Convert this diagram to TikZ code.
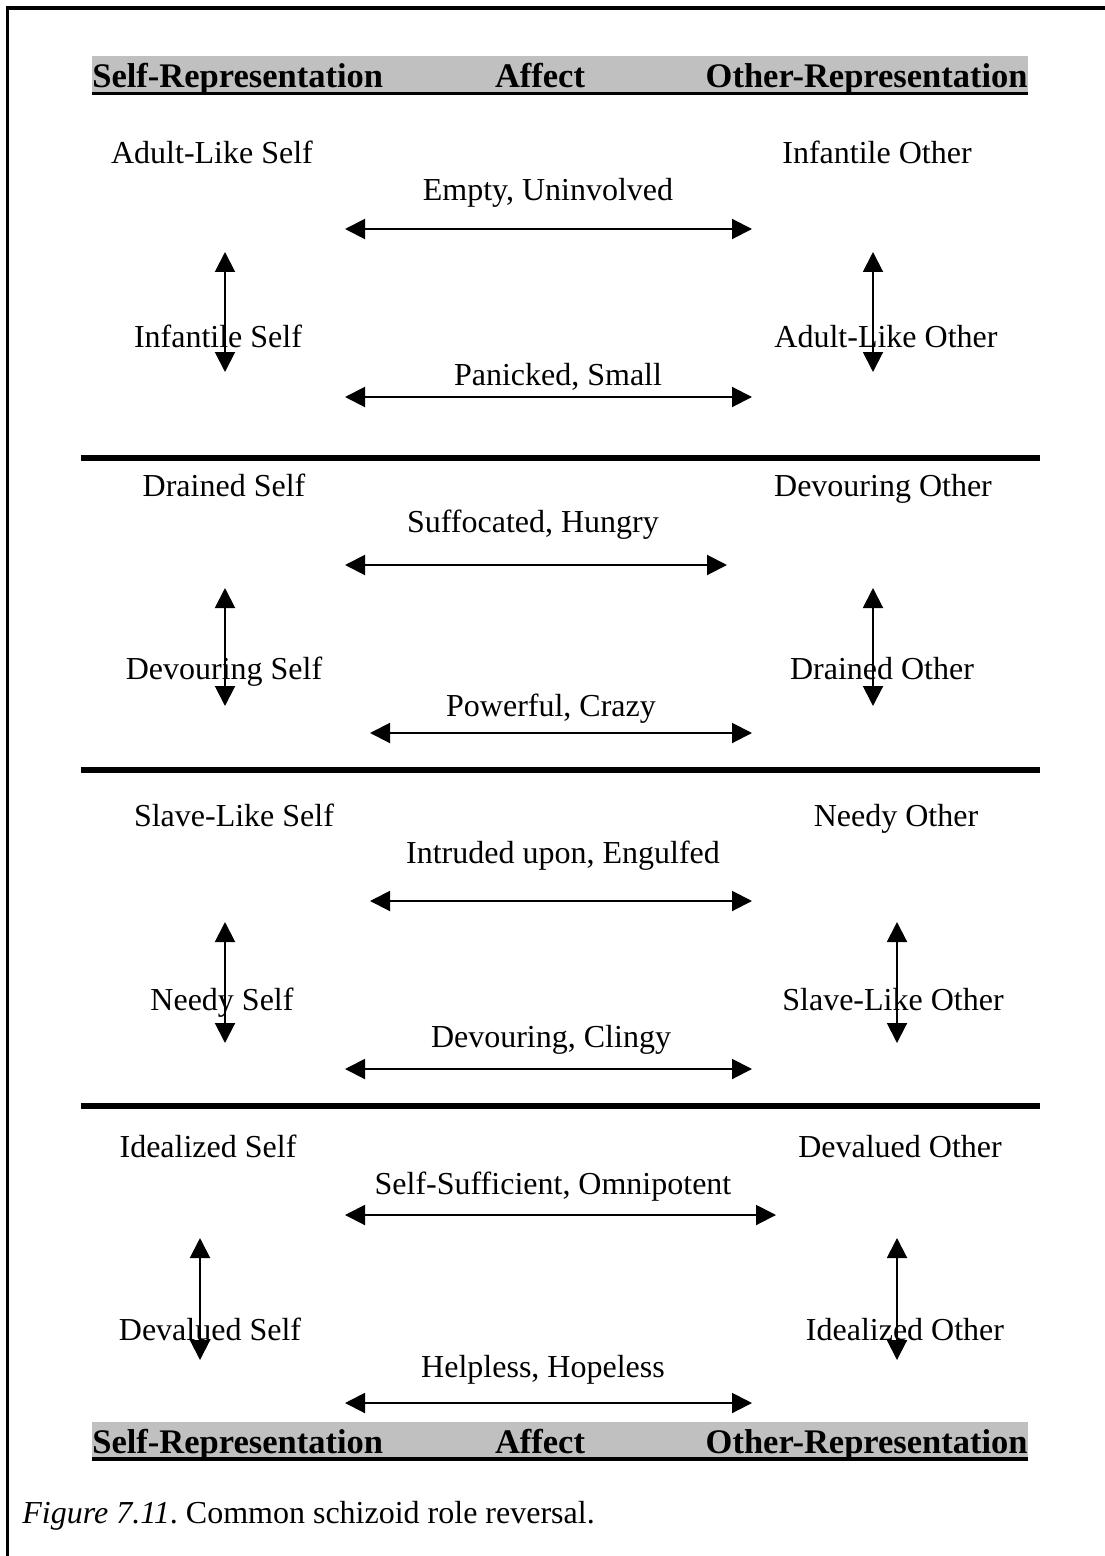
\documentclass[tikz,border=0pt]{standalone}
\usepackage{fontspec}
\setmainfont{Liberation Serif}
\usetikzlibrary{arrows.meta}
\definecolor{headgray}{RGB}{192,192,192}
\frenchspacing
\tikzset{
  lbl/.style={anchor=base,inner sep=0pt,font=\fontsize{16}{19}\selectfont},
  hdr/.style={inner sep=0pt,font=\fontsize{17.25}{20}\selectfont\bfseries},
  dblarrow/.style={line width=1pt,{Triangle[length=10pt,width=10pt]}-{Triangle[length=10pt,width=10pt]}},
  divider/.style={line width=2.75pt},
}
\begin{document}
\begin{tikzpicture}[x=0.5pt,y=-0.5pt]
\useasboundingbox (0,0) rectangle (1104,1556);
% frame (top and left)
\draw[line width=1.75pt] (7.5,1560) -- (7.5,8) -- (1110,8);
% top header
\fill[headgray] (92,56) rectangle (1028,92);
\fill[black] (92,92) rectangle (1028,95.5);
\node[hdr,anchor=base west] (h1l) at (92,88) {Self-Representation};
\node[hdr,anchor=base] (h1m) at (540,88) {Affect};
\node[hdr,anchor=base east] (h1r) at (1028,88) {Other-Representation};
% bottom header
\fill[headgray] (92,1422) rectangle (1028,1457);
\fill[black] (92,1457) rectangle (1028,1461);
\node[hdr,anchor=base west] (h2l) at (92,1453) {Self-Representation};
\node[hdr,anchor=base] (h2m) at (540,1453) {Affect};
\node[hdr,anchor=base east] (h2r) at (1028,1453) {Other-Representation};
% dividers
\coordinate (d1a) at (81,458); \coordinate (d1b) at (1040,458);
\coordinate (d2a) at (81,770); \coordinate (d2b) at (1040,770);
\coordinate (d3a) at (81,1106); \coordinate (d3b) at (1040,1106);
\draw[divider] (d1a) -- (d1b);
\draw[divider] (d2a) -- (d2b);
\draw[divider] (d3a) -- (d3b);
% ---- section 1
\node[lbl] (s1a) at (212,164) {Adult-Like Self};
\node[lbl] (o1a) at (877,164) {Infantile Other};
\node[lbl] (f1a) at (548,201) {Empty, Uninvolved};
\node[lbl] (s1b) at (218,348) {Infantile Self};
\node[lbl] (o1b) at (886,348) {Adult-Like Other};
\node[lbl] (f1b) at (558,385) {Panicked, Small};
\coordinate (a1l) at (345,229); \coordinate (a1r) at (752,229);
\coordinate (b1l) at (345,397); \coordinate (b1r) at (752,397);
\coordinate (v1t) at (225,252); \coordinate (v1b) at (225,372);
\coordinate (w1t) at (873,252); \coordinate (w1b) at (873,372);
\draw[dblarrow] (a1l) -- (a1r);
\draw[dblarrow] (b1l) -- (b1r);
\draw[dblarrow] (v1t) -- (v1b);
\draw[dblarrow] (w1t) -- (w1b);
% ---- section 2
\node[lbl] (s2a) at (224,496) {Drained Self};
\node[lbl] (o2a) at (883,496) {Devouring Other};
\node[lbl] (f2a) at (533,532) {Suffocated, Hungry};
\node[lbl] (s2b) at (224,679) {Devouring Self};
\node[lbl] (o2b) at (882,679) {Drained Other};
\node[lbl] (f2b) at (551,716) {Powerful, Crazy};
\coordinate (a2l) at (345,565); \coordinate (a2r) at (727,565);
\coordinate (b2l) at (370,733); \coordinate (b2r) at (752,733);
\coordinate (v2t) at (225,588); \coordinate (v2b) at (225,706);
\coordinate (w2t) at (873,588); \coordinate (w2b) at (873,706);
\draw[dblarrow] (a2l) -- (a2r);
\draw[dblarrow] (b2l) -- (b2r);
\draw[dblarrow] (v2t) -- (v2b);
\draw[dblarrow] (w2t) -- (w2b);
% ---- section 3
\node[lbl] (s3a) at (234,826) {Slave-Like Self};
\node[lbl] (o3a) at (896,826) {Needy Other};
\node[lbl] (f3a) at (563,863) {Intruded upon, Engulfed};
\node[lbl] (s3b) at (222,1010) {Needy Self};
\node[lbl] (o3b) at (893,1010) {Slave-Like Other};
\node[lbl] (f3b) at (551,1047) {Devouring, Clingy};
\coordinate (a3l) at (370,901); \coordinate (a3r) at (752,901);
\coordinate (b3l) at (345,1069); \coordinate (b3r) at (752,1069);
\coordinate (v3t) at (225,922); \coordinate (v3b) at (225,1043);
\coordinate (w3t) at (897,922); \coordinate (w3b) at (897,1043);
\draw[dblarrow] (a3l) -- (a3r);
\draw[dblarrow] (b3l) -- (b3r);
\draw[dblarrow] (v3t) -- (v3b);
\draw[dblarrow] (w3t) -- (w3b);
% ---- section 4
\node[lbl] (s4a) at (208,1157) {Idealized Self};
\node[lbl] (o4a) at (900,1157) {Devalued Other};
\node[lbl] (f4a) at (553,1194) {Self-Sufficient, Omnipotent};
\node[lbl] (s4b) at (210,1340) {Devalued Self};
\node[lbl] (o4b) at (905,1340) {Idealized Other};
\node[lbl] (f4b) at (543,1377) {Helpless, Hopeless};
\coordinate (a4l) at (345,1215); \coordinate (a4r) at (776,1215);
\coordinate (b4l) at (345,1403); \coordinate (b4r) at (752,1403);
\coordinate (v4t) at (200,1238); \coordinate (v4b) at (200,1360);
\coordinate (w4t) at (897,1238); \coordinate (w4b) at (897,1360);
\draw[dblarrow] (a4l) -- (a4r);
\draw[dblarrow] (b4l) -- (b4r);
\draw[dblarrow] (v4t) -- (v4b);
\draw[dblarrow] (w4t) -- (w4b);
% caption
\node[lbl,anchor=base west] (cap) at (22,1523) {{\itshape Figure 7.11}. Common schizoid role reversal.};
\end{tikzpicture}
\end{document}
